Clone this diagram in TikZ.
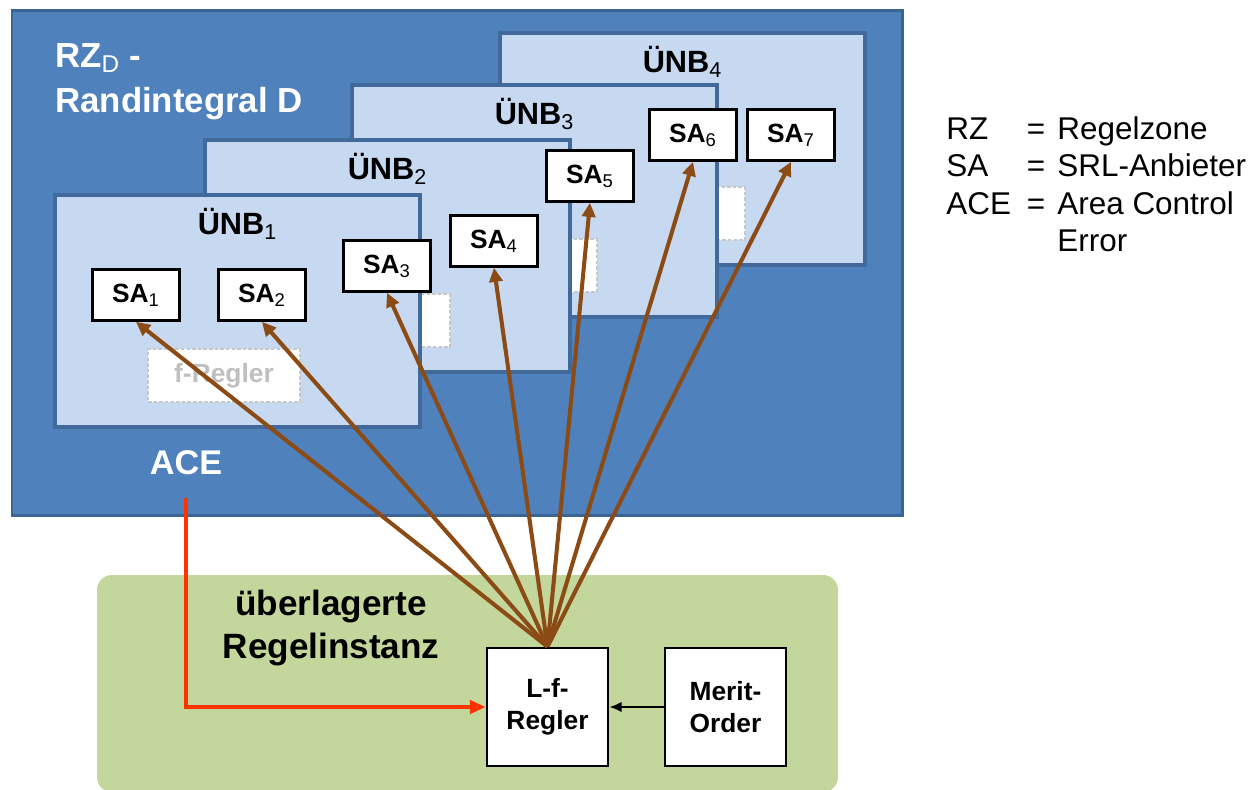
\documentclass[tikz,border=0pt]{standalone}
\usepackage{fontspec}
\setmainfont{Liberation Sans}
\usetikzlibrary{arrows.meta,positioning}
\definecolor{rzblue}{HTML}{4F81BD}
\definecolor{rzedge}{HTML}{3A6494}
\definecolor{unbfill}{HTML}{C6D9F1}
\definecolor{unbedge}{HTML}{41699C}
\definecolor{instgreen}{HTML}{C3D69B}
\definecolor{sabrown}{HTML}{8C4A14}
\definecolor{acered}{HTML}{FF3300}
\newcommand{\ix}[1]{\textsubscript{\mdseries#1}}
\tikzstyle{zone}=[draw=rzedge,fill=rzblue,line width=1.7pt]
\tikzstyle{unb}=[draw=unbedge,fill=unbfill,line width=1.8pt]
\tikzstyle{unb label}=[font=\fontsize{17.5}{20}\selectfont\bfseries]
\tikzstyle{zone label}=[anchor=base west,inner sep=0pt,text=white,font=\fontsize{19.8}{24}\selectfont\bfseries]
\tikzstyle{anbieter}=[draw=black,fill=white,line width=1.5pt,minimum width=1.74cm,minimum height=1.02cm,inner sep=0pt,font=\fontsize{15}{17}\selectfont\bfseries]
\tikzstyle{hidden regler}=[draw=black!22,fill=white,line width=1.3pt,dash pattern=on 2pt off 1.2pt,minimum width=3.04cm,minimum height=1.06cm,inner sep=0pt]
\tikzstyle{regler}=[draw=black,fill=white,line width=1.5pt,minimum width=2.42cm,minimum height=2.36cm,align=center,font=\fontsize{15}{18}\selectfont\bfseries]
\tikzstyle{sa line}=[draw=sabrown,line width=2.3pt,-{Triangle[length=8pt,width=7.5pt]}]
\tikzstyle{ace line}=[draw=acered,line width=2.3pt,-{Triangle[length=9pt,width=7.5pt]}]

\begin{document}
\begin{tikzpicture}[x=0.02cm,y=-0.02cm]
    \useasboundingbox (0,0) rectangle (1252,789);
    % Regelzone with the four UENB areas, back to front
    \draw[zone] (12,10) rectangle (902,515);
    \node[zone label] (rz) at (55,67) {RZ\ix{D} -};
    \node[zone label] (randint) at (55,112) {Randintegral D};
    \foreach \n/\xa/\ya in {4/500/33, 3/352/85, 2/205/140, 1/55/195} {
        \draw[unb] (\xa,\ya) rectangle ++(365,232);
        \node[unb label] (unb\n) at (\xa+182.5,\ya+29) {ÜNB\ix{\n}};
        \node[hidden regler] (freg\n) at (\xa+169,\ya+180.5) {};
    }
    \node[text=black!25,font=\fontsize{15}{17}\selectfont\bfseries] (fregtext) at (freg1) {f-Regler};

    % SRL-Anbieter
    \foreach \pos/\name in {{(136,295)/1}, {(262,295)/2}, {(387,266)/3}, {(494,241)/4}, {(590,176)/5}, {(693,135)/6}, {(791,135)/7}}
        \node[anbieter] (sa\name) at \pos {SA\ix{\name}};

    \node[text=white,font=\fontsize{19.5}{23}\selectfont\bfseries] (ace) at (186,463) {ACE};

    % superordinate control
    \fill[instgreen,rounded corners=8.5pt] (97,575) rectangle (838,792);
    \node[align=center,font=\fontsize{20}{24}\selectfont\bfseries] (inst) at (331,628) {überlagerte\\Regelinstanz};
    \node[regler] (lfr) at (547.5,707) {L-f-\\Regler};
    \node[regler] (merit) at (725.5,707) {Merit-\\Order};

    % connectors
    \draw[line width=1.6pt,-{Latex[length=7pt,width=6pt]}] (merit) -- (lfr);
    \path[ace line] (ace.south) ++(0,17) |- (lfr.west);
    \foreach \dest in {1,...,7}
        \path[sa line] (lfr.north) -- (sa\dest.south);

    % legend
    \node[anchor=north west,inner sep=0pt,font=\fontsize{17.9}{21.3}\selectfont] (legend) at (946,113) {%
        \begin{tabular}{@{}l@{\hspace{0.32cm}}l@{\hspace{0.24cm}}l@{}}
        RZ & = & Regelzone\\
        SA & = & SRL-Anbieter\\
        ACE & = & Area Control\\
            &   & Error
        \end{tabular}};
\end{tikzpicture}
\end{document}
